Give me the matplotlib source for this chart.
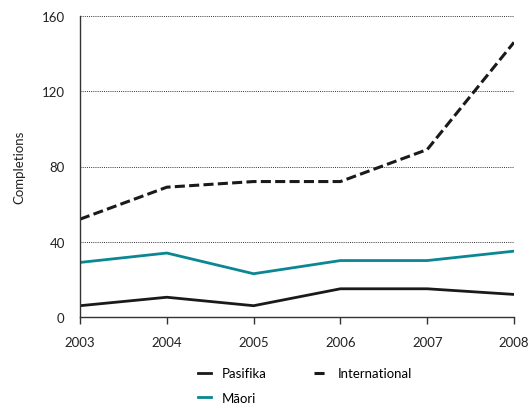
import matplotlib
matplotlib.use("Agg")
import matplotlib.pyplot as plt

plt.rcParams["font.family"] = ["Lato", "DejaVu Sans"]

# 数据
years = [2003, 2004, 2005, 2006, 2007, 2008]
pasifika = [6, 10.5, 6, 15, 15, 12]
maori = [29, 34, 23, 30, 30, 35]
international = [52, 69, 72, 72, 89, 146]

teal = "#0b8793"
dark = "#1a1a1a"

fig = plt.figure(figsize=(5.28, 4.06), dpi=100)
ax = fig.add_axes([80 / 528, 1 - 318 / 406, (514 - 80) / 528, (318 - 17) / 406])

l1, = ax.plot(years, pasifika, color=dark, lw=2.0, label="Pasifika")
l2, = ax.plot(years, maori, color=teal, lw=2.0, label="Māori")
l3, = ax.plot(years, international, color=dark, lw=2.2, dashes=(3.3, 1.4),
              label="International")

ax.set_xlim(2003, 2008)
ax.set_ylim(0, 160)
ax.set_xticks(years)
ax.set_yticks([0, 40, 80, 120, 160])
ax.yaxis.grid(True, linestyle=(0, (1, 1.2)), color="#333333", lw=0.7)
ax.set_axisbelow(True)

for s in ["top", "right"]:
    ax.spines[s].set_visible(False)
ax.spines["left"].set_color("#333333")
ax.spines["bottom"].set_color("#333333")
ax.spines["left"].set_linewidth(1.0)
ax.spines["bottom"].set_linewidth(1.0)

ax.tick_params(axis="y", length=0, pad=11, labelsize=9.5, labelcolor="#222222")
ax.tick_params(axis="x", length=5, width=1.0, color="#333333", pad=9,
               labelsize=9.5, labelcolor="#222222")
ax.set_ylabel("Completions", fontsize=9.5, color="#222222", labelpad=12)

# 图例：第一列 Pasifika / Māori，第二列 International
fig.legend(handles=[l1, l2, l3], ncol=2, frameon=False, fontsize=9.5,
           loc="upper left", bbox_to_anchor=(193 / 528, 1 - 363 / 406),
           handlelength=1.0, handletextpad=0.8, columnspacing=3.6,
           labelspacing=0.95, borderaxespad=0)

fig.savefig("out.png", dpi=100)
